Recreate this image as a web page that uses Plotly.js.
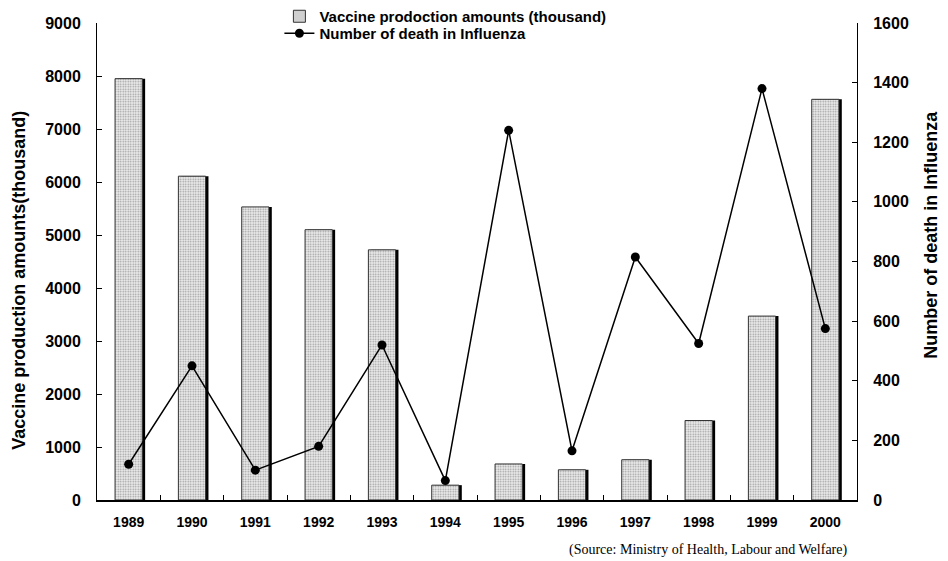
<!DOCTYPE html>
<html>
<head>
<meta charset="utf-8">
<script src="https://cdn.plot.ly/plotly-3.0.1.min.js"></script>
<style>html,body{margin:0;padding:0;background:#fff;}#chart{width:948px;height:561px;}</style>
</head>
<body>
<div id="chart"></div>
<script>
var years = ["1989","1990","1991","1992","1993","1994","1995","1996","1997","1998","1999","2000"];
var vaccine = [7950, 6110, 5530, 5100, 4720, 280, 680, 570, 760, 1500, 3470, 7560];
var deaths = [120, 450, 100, 180, 520, 65, 1240, 165, 815, 525, 1380, 575];
var vaccineName = "Vaccine prodoction amounts (thousand)";
var deathName = "Number of death in Influenza";
var leftTitle = "Vaccine production amounts(thousand)";
var rightTitle = "Number of death in Influenza";
var sourceText = "(Source: Ministry of Health, Labour and Welfare)";

var FONT = "'Liberation Sans', Arial, sans-serif";
var BW = 0.43;

var shadow = {
  type: "bar", x: years, y: vaccine, width: BW, offset: -BW/2 + 0.045,
  marker: {color: "#000", line: {width: 0}},
  showlegend: false, hoverinfo: "skip"
};
var bars = {
  type: "bar", x: years, y: vaccine, name: vaccineName, width: BW, offset: -BW/2,
  legend: "legend",
  marker: {color: "#e6e6e6", line: {color: "#333", width: 1},
    pattern: {shape: ".", fgcolor: "#9a9a9a", bgcolor: "#eeeeee", size: 2.5, solidity: 0.35}}
};
var line = {
  type: "scatter", mode: "lines+markers", x: years, y: deaths, name: deathName, yaxis: "y2",
  legend: "legend2",
  line: {color: "#000", width: 1.5},
  marker: {color: "#000", size: 9, symbol: "circle"}
};

var legendFont = {family: FONT, size: 15, weight: 700, color: "#000"};

var layout = {
  width: 948, height: 561,
  margin: {l: 97, r: 91, t: 0, b: 61},
  paper_bgcolor: "#fff", plot_bgcolor: "#fff",
  barmode: "overlay",
  font: {family: FONT, size: 14, color: "#000", weight: 700},
  showlegend: true,
  legend: {x: 0.24, xanchor: "left", y: 1.0, yanchor: "top", bgcolor: "rgba(0,0,0,0)",
    font: legendFont, itemwidth: 30},
  legend2: {x: 0.24, xanchor: "left", y: 0.966, yanchor: "top", bgcolor: "rgba(0,0,0,0)",
    font: legendFont, itemwidth: 30},
  xaxis: {type: "category", range: [-0.5, 11.5], showline: true, linecolor: "#000", linewidth: 1.5,
    ticks: "inside", tickson: "boundaries", ticklen: 5, tickcolor: "#000",
    showgrid: false, zeroline: false, ticklabelstandoff: 9,
    tickfont: {family: FONT, size: 14, weight: 700}},
  yaxis: {domain: [0, 0.954], range: [0, 9000], dtick: 1000, showline: true, linecolor: "#000", linewidth: 1,
    ticks: "inside", ticklen: 5, tickcolor: "#000", showgrid: false, zeroline: false,
    tickfont: {family: FONT, size: 16, weight: 700}, ticklabelstandoff: 12},
  yaxis2: {range: [0, 1600], dtick: 200, overlaying: "y", side: "right", showline: true,
    linecolor: "#000", linewidth: 1, ticks: "inside", ticklen: 5, tickcolor: "#000",
    showgrid: false, zeroline: false, ticklabelstandoff: 12,
    tickfont: {family: FONT, size: 16, weight: 700}},
  annotations: [
    {text: leftTitle, xref: "paper", yref: "paper", x: -0.103, y: 0.44, xanchor: "center", yanchor: "middle",
     textangle: -90, showarrow: false, font: {family: FONT, size: 18, weight: 700, color: "#000"}},
    {text: rightTitle, xref: "paper", yref: "paper", x: 1.097, y: 0.53, xanchor: "center", yanchor: "middle",
     textangle: -90, showarrow: false, font: {family: FONT, size: 18, weight: 700, color: "#000"}},
    {text: sourceText, xref: "paper", yref: "paper",
     x: 0.99, xanchor: "right", y: -0.1, yanchor: "middle", showarrow: false,
     font: {family: "'Liberation Serif', 'Times New Roman', serif", size: 14, weight: 400, color: "#000"}}
  ]
};

Plotly.newPlot("chart", [shadow, bars, line], layout, {displayModeBar: false, staticPlot: true});
</script>
</body>
</html>
